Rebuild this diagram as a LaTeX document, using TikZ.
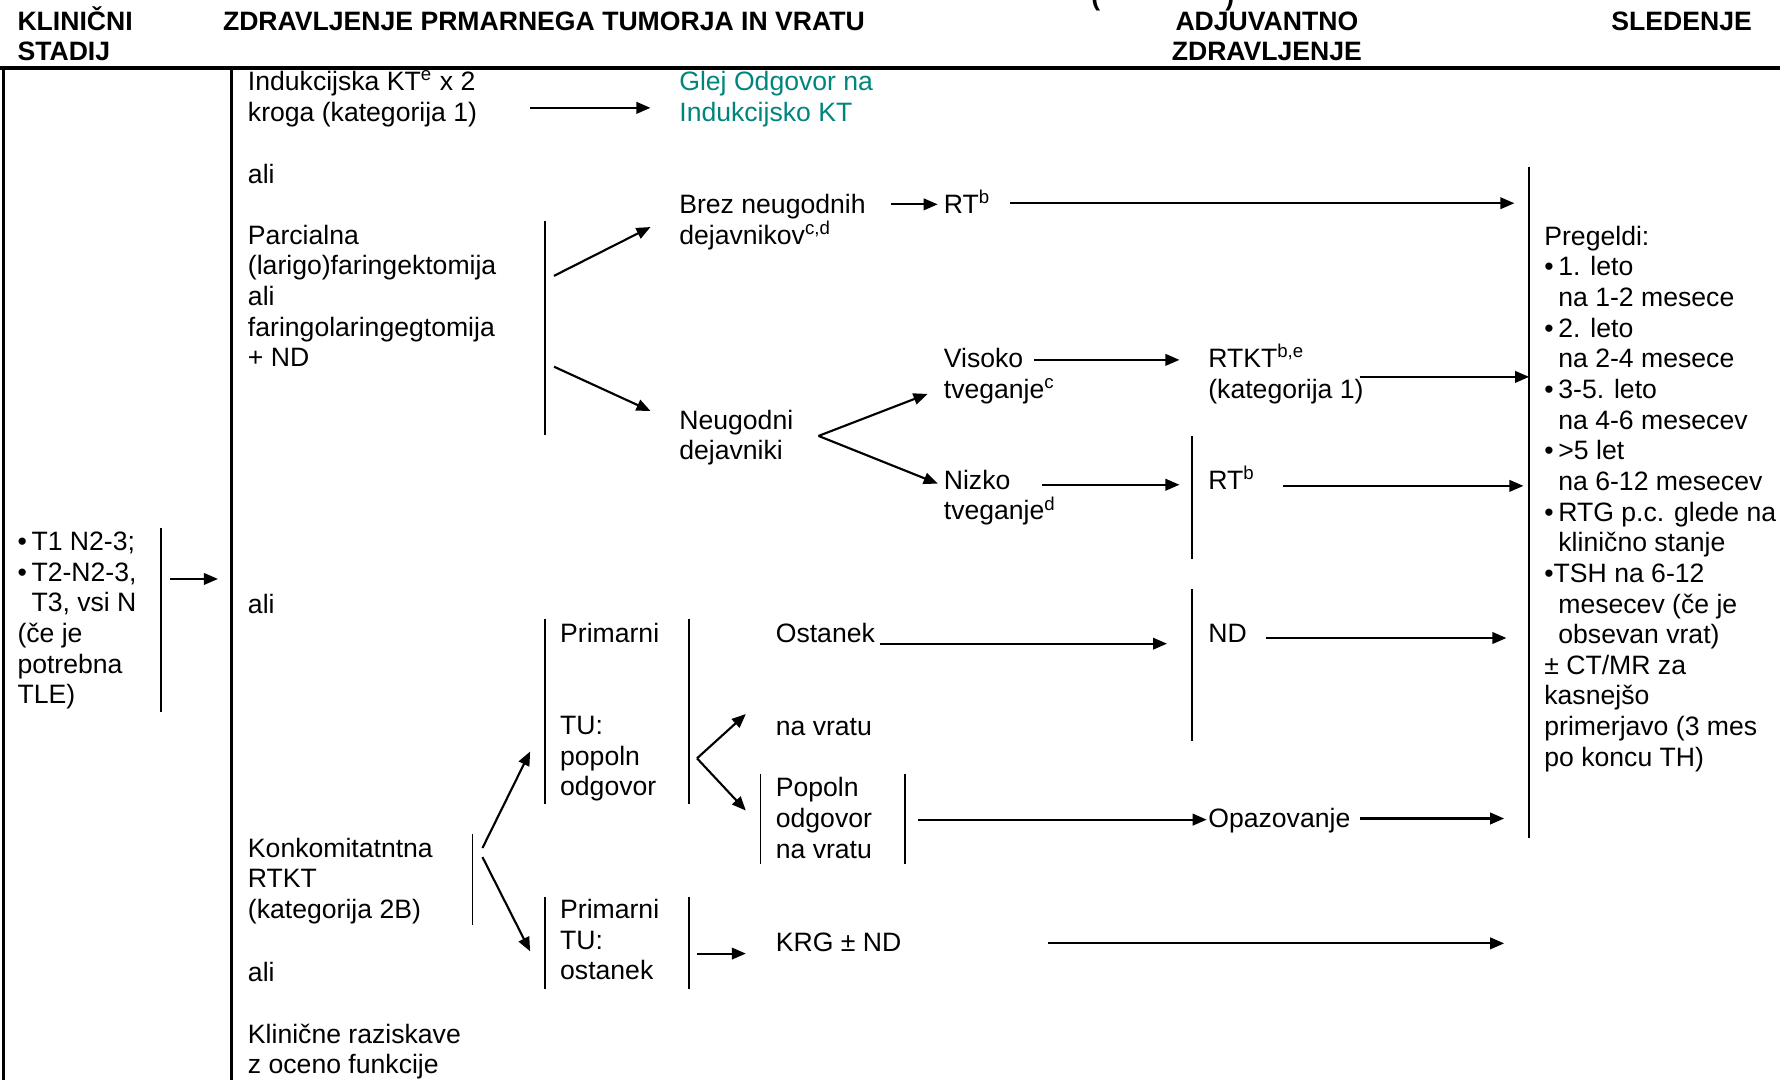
\documentclass[tikz,border=0pt]{standalone}
\usepackage{fontspec}
\setmainfont{Liberation Sans}
\usetikzlibrary{arrows.meta}
\definecolor{linkteal}{RGB}{0,133,125}
\newcommand\blt{\makebox[5.6pt][l]{\textbullet}}
\newcommand\contind{\hspace*{5.6pt}}
\begin{document}
% multi-line texts are placed by the baseline of their last line
\begin{tikzpicture}[x=0.4541pt,y=-0.4541pt,
  txt/.style={anchor=base west,inner sep=0pt,align=left,font=\fontsize{10.64}{12.26}\selectfont},
  head/.style={anchor=base west,inner sep=0pt,align=left,font=\fontsize{10.64}{11.8}\selectfont\bfseries},
  arr/.style={-{Triangle[length=5.6pt,width=4.6pt]},line width=0.85pt},
  bar/.style={line width=0.6pt},
  frame/.style={line width=1.1pt}]
\useasboundingbox (0,0) rectangle (1568,951);
\clip (0,0) rectangle (1568,951);

% ---------- column headings ----------
\node[head] (hStage) at (15,53) {KLINIČNI\\STADIJ};
\node[head] (hPrim) at (196,27) {ZDRAVLJENJE PRMARNEGA TUMORJA IN VRATU};
\node[head] (hParL) at (961,5) {(};
\node[head] (hParR) at (1079,5) {)};
\node[head,anchor=base,align=center] (hAdj) at (1116,53) {ADJUVANTNO\\ZDRAVLJENJE};
\node[head] (hFollow) at (1419,27) {SLEDENJE};

% ---------- table frame ----------
\draw[line width=1.4pt] (0,60) -- (1568,60);
\draw[frame] (3,60) -- (3,951);
\draw[frame] (204,60) -- (204,951);

% ---------- clinical stage ----------
\node[txt] (stage) at (15,620) {\blt T1 N2-3;\\\blt T2-N2-3,\\\contind T3, vsi N\\(če je\\potrebna\\TLE)};
\draw[bar] (142,465) -- (142,627);

% ---------- primary treatment options ----------
\node[txt] (indk) at (218,107) {Indukcijska KT\textsuperscript{e} x 2\\kroga (kategorija 1)};
\node[txt,text=linkteal] (glej) at (598,107) {Glej Odgovor na\\Indukcijsko KT};
\node[txt] (ali1) at (218,162) {ali};
\node[txt] (parc) at (218,323) {Parcialna\\(larigo)faringektomija\\ali\\faringolaringegtomija\\+ ND};
\draw[bar] (480,195) -- (480,383);
\node[txt] (brez) at (598,215) {Brez neugodnih\\dejavnikov\textsuperscript{c,d}};
\node[txt] (rtA) at (831,188) {RT\textsuperscript{b}};
\node[txt] (neug) at (598,405) {Neugodni\\dejavniki};
\node[txt] (visoko) at (831,351) {Visoko\\tveganje\textsuperscript{c}};
\node[txt] (rtkt) at (1064,351) {RTKT\textsuperscript{b,e}\\(kategorija 1)};
\node[txt] (nizko) at (831,458) {Nizko\\tveganje\textsuperscript{d}};
\draw[bar] (1050,384) -- (1050,492);
\node[txt] (rtB) at (1064,431) {RT\textsuperscript{b}};

\node[txt] (ali2) at (218,540) {ali};
\node[txt] (konk) at (218,809) {Konkomitatntna\\RTKT\\(kategorija 2B)};
\draw[bar] (416,735) -- (416,815);
\node[txt] (ali3) at (218,865) {ali};
\node[txt] (klin) at (218,946) {Klinične raziskave\\z oceno funkcije};

% response after concurrent treatment
\draw[bar] (480,545) -- (480,708);
\draw[bar] (607,545) -- (607,708);
\node[txt] (primA) at (493,566) {Primarni};
\node[txt] (tuA) at (493,701) {TU:\\popoln\\odgovor};
\node[txt] (ostanek) at (683,566) {Ostanek};
\node[txt] (navratu) at (683,648) {na vratu};
\draw[bar] (1050,519) -- (1050,653);
\node[txt] (nd) at (1064,566) {ND};
\draw[bar] (670,682) -- (670,761);
\draw[bar] (797,682) -- (797,761);
\node[txt] (popoln) at (683,756) {Popoln\\odgovor\\na vratu};
\node[txt] (opaz) at (1064,729) {Opazovanje};
\draw[bar] (480,790) -- (480,871);
\draw[bar] (607,790) -- (607,871);
\node[txt] (primB) at (493,863) {Primarni\\TU:\\ostanek};
\node[txt] (krg) at (683,838) {KRG ± ND};

% ---------- follow-up ----------
\draw[bar] (1347,147) -- (1347,738);
\node[txt] (follow) at (1360,675) {Pregeldi:\\
\blt 1. leto\\\contind na 1-2 mesece\\
\blt 2. leto\\\contind na 2-4 mesece\\
\blt 3-5. leto\\\contind na 4-6 mesecev\\
\blt >5 let\\\contind na 6-12 mesecev\\
\blt RTG p.c. glede na\\\contind klinično stanje\\
\textbullet TSH na 6-12\\\contind mesecev (če je\\\contind obsevan vrat)\\
± CT/MR za\\kasnejšo\\primerjavo (3 mes\\po koncu TH)};

% ---------- connector end points ----------
\coordinate (stOut) at (150,510);   \coordinate (stIn) at (192,510);
\coordinate (indOut) at (467,95);   \coordinate (glejIn) at (573,95);
\coordinate (parOutA) at (488,243); \coordinate (brezIn) at (573,200);
\coordinate (parOutB) at (488,323); \coordinate (neugIn) at (573,362);
\coordinate (brezOut) at (785,180); \coordinate (rtAIn) at (826,180);
\coordinate (rtAOut) at (890,179);  \coordinate (fuA) at (1334,179);
\coordinate (neugOut) at (721,384); \coordinate (visIn) at (817,347);
\coordinate (nizIn) at (826,426);
\coordinate (visOut) at (911,317);  \coordinate (rtktIn) at (1039,317);
\coordinate (rtktOut) at (1198,332);\coordinate (fuB) at (1347,332);
\coordinate (nizOut) at (918,427);  \coordinate (rtBIn) at (1039,427);
\coordinate (rtBOut) at (1130,428); \coordinate (fuC) at (1342,428);
\coordinate (ostOut) at (775,567);  \coordinate (ndIn) at (1028,567);
\coordinate (ndOut) at (1115,562);  \coordinate (fuD) at (1327,562);
\coordinate (tuOut) at (614,668);   \coordinate (navIn) at (657,629);
\coordinate (popIn) at (657,714);
\coordinate (popOut) at (809,722);  \coordinate (opazIn) at (1063,722);
\coordinate (opazOut) at (1198,721);\coordinate (fuE) at (1325,721);
\coordinate (konkOutA) at (425,747);\coordinate (tuAIn) at (467,662);
\coordinate (konkOutB) at (425,755);\coordinate (primBIn) at (467,838);
\coordinate (primBOut) at (614,840);\coordinate (krgIn) at (657,840);
\coordinate (krgOut) at (923,831);  \coordinate (fuF) at (1325,831);

% ---------- connectors ----------
\draw[arr] (stOut) -- (stIn);
\draw[arr] (indOut) -- (glejIn);
\draw[arr] (parOutA) -- (brezIn);
\draw[arr] (parOutB) -- (neugIn);
\draw[arr] (brezOut) -- (rtAIn);
\draw[arr] (rtAOut) -- (fuA);
\draw[arr] (neugOut) -- (visIn);
\draw[arr] (neugOut) -- (nizIn);
\draw[arr] (visOut) -- (rtktIn);
\draw[arr] (rtktOut) -- (fuB);
\draw[arr] (nizOut) -- (rtBIn);
\draw[arr] (rtBOut) -- (fuC);
\draw[arr] (ostOut) -- (ndIn);
\draw[arr] (ndOut) -- (fuD);
\draw[arr] (tuOut) -- (navIn);
\draw[arr] (tuOut) -- (popIn);
\draw[arr] (popOut) -- (opazIn);
\draw[arr] (opazOut) -- (fuE);
\draw[arr] (konkOutA) -- (tuAIn);
\draw[arr] (konkOutB) -- (primBIn);
\draw[arr] (primBOut) -- (krgIn);
\draw[arr] (krgOut) -- (fuF);
\end{tikzpicture}
\end{document}
